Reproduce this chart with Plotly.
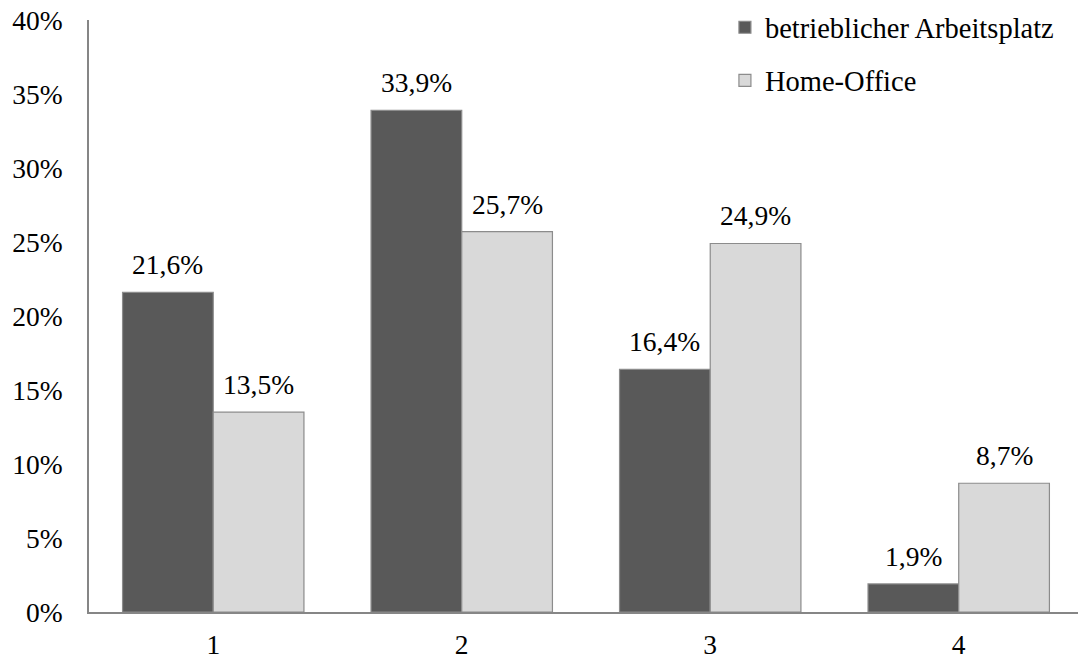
import plotly.graph_objects as go

categories = [1, 2, 3, 4]
series_names = ["betrieblicher Arbeitsplatz", "Home-Office"]
betrieblich = [21.6, 33.9, 16.4, 1.9]
home_office = [13.5, 25.7, 24.9, 8.7]
y_ticks = [0, 5, 10, 15, 20, 25, 30, 35, 40]
y_tick_labels = [f"{v}%" for v in y_ticks]

FONT = "Liberation Serif"
FONT_SIZE = 27.5
BAR_GAP = 0.27
DARK = "#595959"
LIGHT = "#d9d9d9"
EDGE = "#8c8c8c"
AXIS = "#868686"


def fmt(v):
    return f"{v:.1f}".replace(".", ",") + "%"


fig = go.Figure()
for name, vals, color, grp in [
    (series_names[0], betrieblich, DARK, "a"),
    (series_names[1], home_office, LIGHT, "b"),
]:
    fig.add_trace(go.Bar(
        x=categories, y=vals, name=name, legendgroup=grp,
        marker=dict(color=color, line=dict(color=EDGE, width=1.2)),
    ))

# value labels above each bar
offset = (1 - BAR_GAP) / 4
for vals, sign in [(betrieblich, -1), (home_office, 1)]:
    for c, v in zip(categories, vals):
        fig.add_annotation(
            x=c + sign * offset, y=v, text=fmt(v), showarrow=False,
            yanchor="bottom", yshift=10,
            font=dict(family=FONT, size=FONT_SIZE, color="#000"),
        )

fig.update_layout(
    width=1078, height=661,
    margin=dict(l=89, r=0, t=20, b=49),
    barmode="group", bargap=BAR_GAP, bargroupgap=0,
    plot_bgcolor="white", paper_bgcolor="white",
    font=dict(family=FONT, size=FONT_SIZE, color="#000"),
    showlegend=True,
    legend=dict(
        x=0.643, y=1.03, xanchor="left", yanchor="top",
        traceorder="grouped", tracegroupgap=13,
        font=dict(family=FONT, size=28.5, color="#000"),
        bgcolor="rgba(0,0,0,0)",
    ),
    xaxis=dict(
        range=[0.5, 4.48], tickvals=categories,
        ticktext=[str(c) for c in categories],
        showline=True, linecolor=AXIS, linewidth=1.5,
        showgrid=False, zeroline=False, ticks="", ticklabelstandoff=7,
        automargin=False,
    ),
    yaxis=dict(
        range=[0, 40], tickvals=y_ticks, ticktext=y_tick_labels,
        showline=True, linecolor=AXIS, linewidth=1.5,
        showgrid=False, zeroline=False, ticks="", ticklabelstandoff=19,
        automargin=False,
    ),
)

fig.write_html("out.html")
